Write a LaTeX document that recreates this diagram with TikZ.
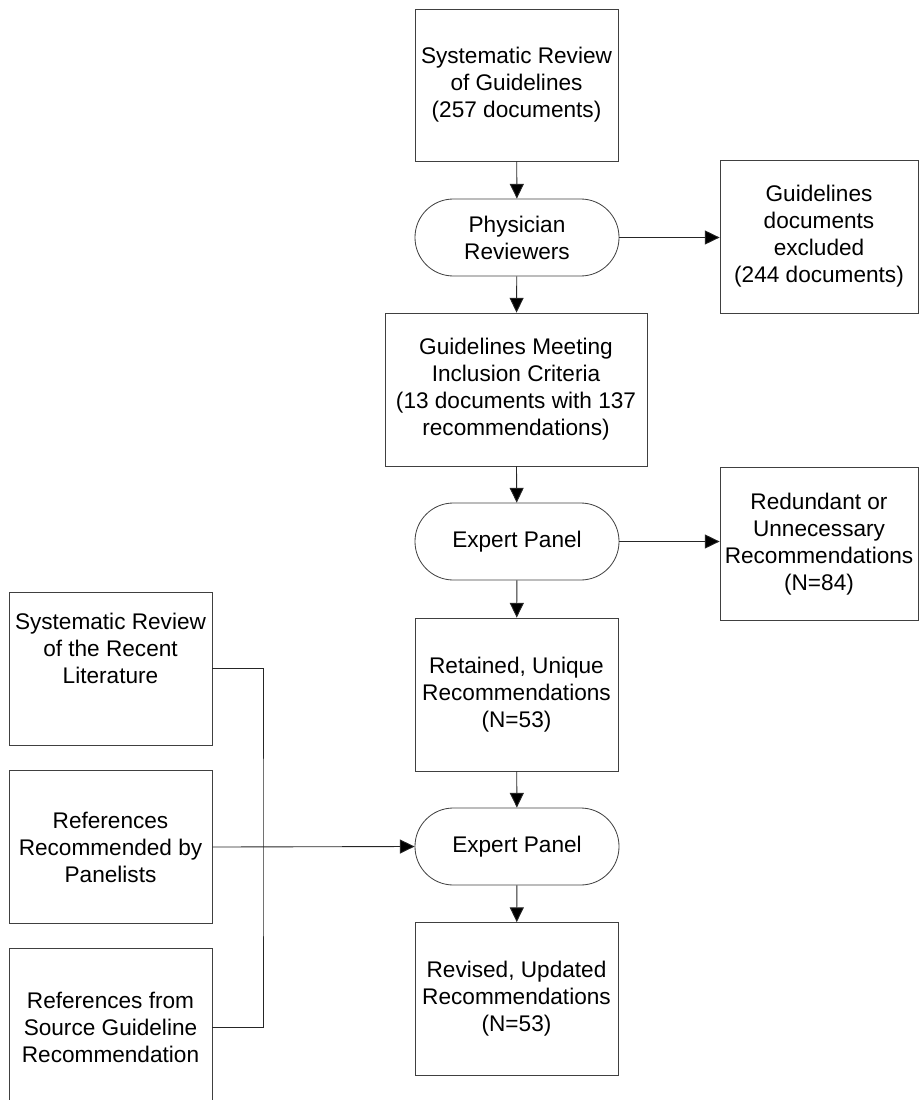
\documentclass[tikz,border=0pt]{standalone}
\usepackage{fontspec}
\setmainfont{Liberation Sans}
\usetikzlibrary{arrows.meta}

\begin{document}
\begin{tikzpicture}[
	x=0.03cm,
	y=-0.03cm,
	gbox/.style={
		draw=black!75,
		line width=0.7pt,
		minimum width=6.09cm,
		minimum height=4.59cm,
		inner sep=0pt,
		align=center,
		font=\fontsize{19.3}{23}\selectfont
	},
	panel/.style={
		gbox,
		rounded corners=1.15cm,
		minimum width=6.12cm,
		minimum height=2.31cm
	},
	flow/.style={
		draw=black!85,
		line width=0.75pt,
		-{Triangle[length=0.44cm,width=0.42cm,fill=black]}
	},
	link/.style={
		draw=black!85,
		line width=0.75pt
	}
]
	\useasboundingbox (0,0) rectangle (919,1100);

	% main column
	\node[
		gbox,
		minimum height=4.56cm
	] (sysrev) at (516.5,85) {Systematic Review\\of Guidelines\\(257 documents)};
	\node[
		panel
	] (physician) at (517,237.5) {Physician\\Reviewers};
	\node[
		gbox,
		minimum width=7.86cm
	] (inclusion) at (516,389.5) {Guidelines Meeting\\Inclusion Criteria\\(13 documents with 137\\recommendations)};
	\node[
		panel
	] (expertA) at (517,541.5) {Expert Panel};
	\node[
		gbox
	] (retained) at (516.5,694.5) {Retained, Unique\\Recommendations\\(N=53)};
	\node[
		panel
	] (expertB) at (517,846.5) {Expert Panel};
	\node[
		gbox
	] (revised) at (516.5,999) {Revised, Updated\\Recommendations\\(N=53)};

	% excluded on the right
	\node[
		gbox,
		minimum width=5.94cm
	] (excluded) at (819,236.5) {Guidelines\\documents\\excluded\\(244 documents)};
	\node[
		gbox,
		minimum width=5.94cm
	] (redundant) at (819,544) {Redundant or\\Unnecessary\\Recommendations\\(N=84)};

	% sources on the left
	\node[
		gbox
	] (literature) at (110.5,668.5) {Systematic Review\\of the Recent\\Literature\\[0.58em]};
	\node[
		gbox
	] (panelists) at (110.5,847) {References\\Recommended by\\Panelists};
	\node[
		gbox,
		minimum height=4.77cm
	] (source) at (110.5,1027.5) {References from\\Source Guideline\\Recommendation};
	\coordinate (trunk) at (263,847);

	% connectors
	\draw[flow] (sysrev) -- (physician);
	\draw[flow] (physician) -- (inclusion);
	\draw[flow] (physician.east) -- (physician.east -| excluded.west);
	\draw[flow] (inclusion) -- (expertA);
	\draw[flow] (expertA.east) -- (expertA.east -| redundant.west);
	\draw[flow] (expertA) -- (retained);
	\draw[flow] (retained) -- (expertB);
	\draw[flow] (expertB) -- (revised);
	\draw[link] (literature.east) -| (trunk) |- (source.east);
	\draw[flow] (panelists.east) -- (expertB.west);

\end{tikzpicture}
\end{document}
